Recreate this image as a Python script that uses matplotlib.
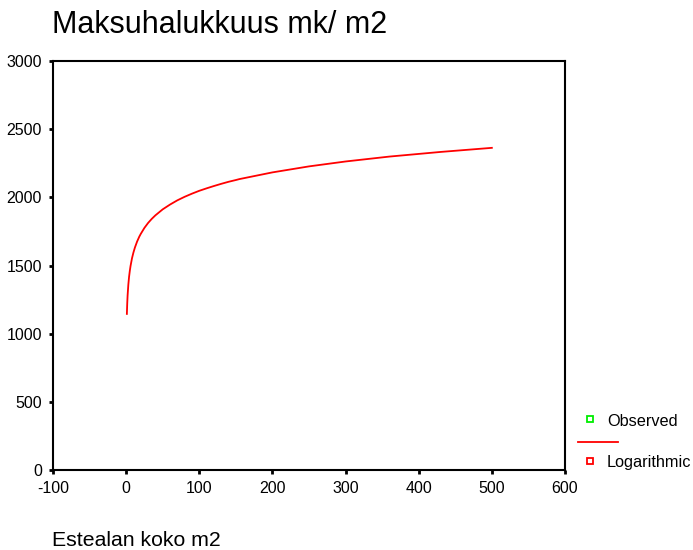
import matplotlib
matplotlib.use("Agg")
import matplotlib.pyplot as plt
from matplotlib.lines import Line2D

plt.rcParams['font.family'] = ['Liberation Sans', 'DejaVu Sans']
plt.rcParams['axes.unicode_minus'] = False

# Logarithmic fit curve
fit_x = [1, 1.5, 2, 3, 4, 5, 6, 8, 10, 12, 15, 18, 20, 25, 30, 35, 40, 50, 60,
         70, 80, 90, 100, 110, 120, 130, 140, 150, 155, 200, 250, 300, 360, 430, 500]
fit_y = [1145, 1224, 1281, 1360, 1417, 1460, 1496, 1553, 1596, 1632, 1676, 1712,
         1732, 1776, 1812, 1842, 1868, 1912, 1947, 1978, 2004, 2027, 2048, 2066,
         2083, 2099, 2114, 2127, 2134, 2183, 2227, 2263, 2299, 2333, 2363]

x_ticks = [-100, 0, 100, 200, 300, 400, 500, 600]
y_ticks = [0, 500, 1000, 1500, 2000, 2500, 3000]

title = "Maksuhalukkuus mk/ m2"
xlabel = "Estealan koko m2"
legend_labels = ["Observed", "Logarithmic"]

fig = plt.figure(figsize=(6.93, 5.5), dpi=100)
W, H = 693, 550
ax = fig.add_axes([53 / W, (H - 470) / H, (565 - 53) / W, (470 - 61) / H])

ax.plot(fit_x, fit_y, color='#ff0000', lw=1.3)

ax.set_xlim(-100, 600)
ax.set_ylim(0, 3000)
ax.set_xticks(x_ticks)
ax.set_yticks(y_ticks)
ax.tick_params(direction='out', length=3, width=2, labelsize=11.5, pad=5, color='black')
for s in ax.spines.values():
    s.set_linewidth(1.5)
    s.set_color('black')

fig.text(52 / W, 1 - 25 / H, title, fontsize=22, ha='left', va='center')
fig.text(52 / W, 1 - 541 / H, xlabel, fontsize=15.3, ha='left', va='center')

# legend
fig.add_artist(Line2D([590 / W], [1 - 419 / H], marker='s', markersize=5,
                      markerfacecolor='white', markeredgecolor='#00ee00', markeredgewidth=1.3,
                      linestyle='none', transform=fig.transFigure))
fig.add_artist(Line2D([578 / W, 618 / W], [1 - 442 / H, 1 - 442 / H], color='#ff0000',
                      lw=1.3, transform=fig.transFigure))
fig.add_artist(Line2D([590 / W], [1 - 461 / H], marker='s', markersize=5,
                      markerfacecolor='white', markeredgecolor='#ff0000', markeredgewidth=1.3,
                      linestyle='none', transform=fig.transFigure))
fig.text(607 / W, 1 - 422 / H, legend_labels[0], fontsize=11.7, ha='left', va='center')
fig.text(607 / W, 1 - 463 / H, legend_labels[1], fontsize=11.7, ha='left', va='center')

fig.savefig("out.png", dpi=100)
